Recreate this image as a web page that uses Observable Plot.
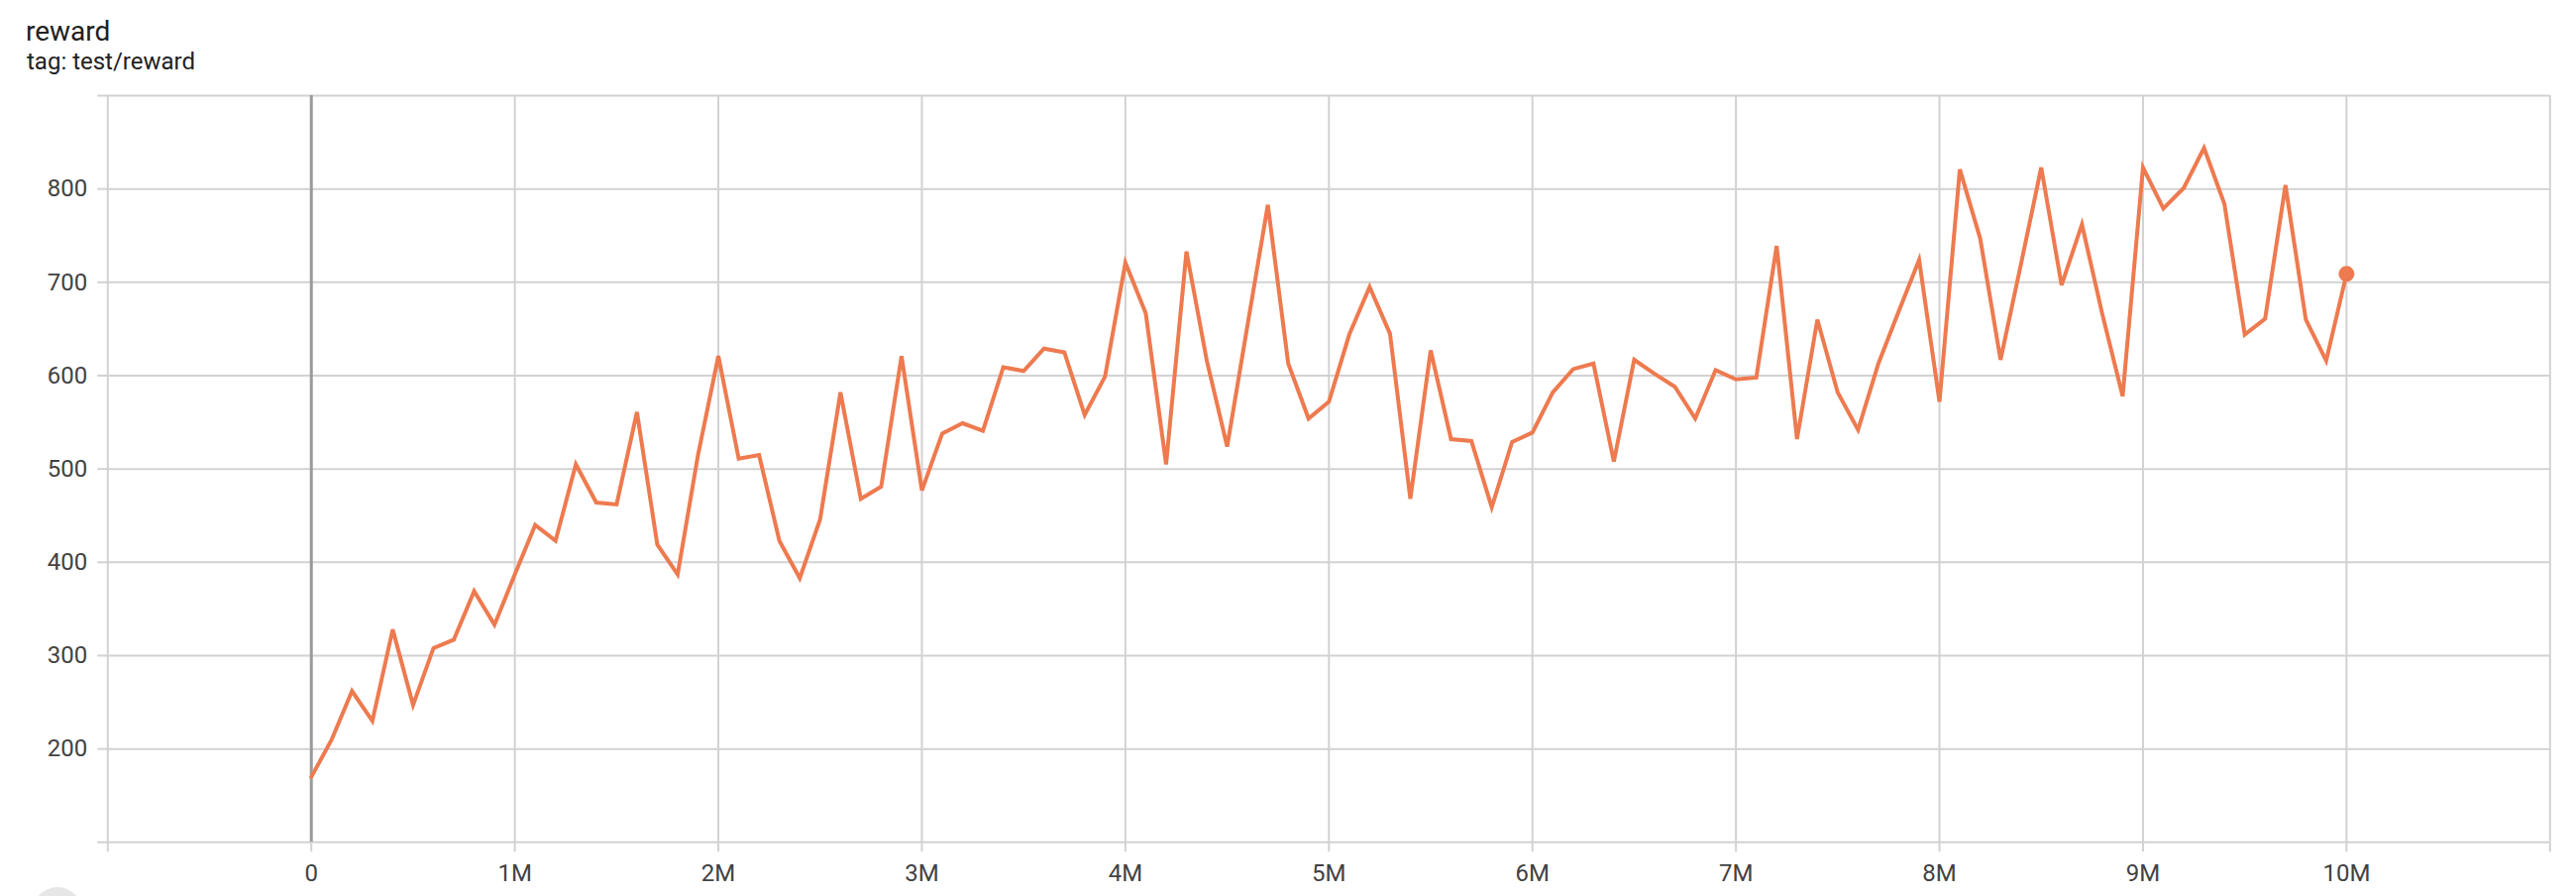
<!DOCTYPE html>
<html>
<head>
<meta charset="utf-8">
<script src="https://cdn.jsdelivr.net/npm/d3@7"></script>
<script src="https://cdn.jsdelivr.net/npm/@observablehq/plot@0.6"></script>
<style>
  html, body { margin: 0; padding: 0; background: #fff; overflow: hidden; }
  body { width: 2600px; height: 904px; position: relative; font-family: Roboto, "Noto Sans", sans-serif; }
  #header { position: relative; height: 80px; }
  #title { position: absolute; left: 26px; top: 18px; font-size: 28px; line-height: 28px; color: #212121; }
  #subtitle { position: absolute; left: 27px; top: 50px; font-size: 24px; line-height: 24px; color: #212121; }
  #chart svg { display: block; }
  #fab { position: absolute; left: 33px; top: 895px; width: 50px; height: 50px; border-radius: 50%; background: #e6e6e6; }
</style>
</head>
<body>
<div id="header">
  <div id="title">reward</div>
  <div id="subtitle">tag: test/reward</div>
</div>
<div id="chart"></div>
<div id="fab"></div>
<script>
// training step (millions)
const stepsM = [
  0.0, 0.1, 0.2, 0.3, 0.4, 0.5, 0.6, 0.7, 0.8, 0.9,
  1.0, 1.1, 1.2, 1.3, 1.4, 1.5, 1.6, 1.7, 1.8, 1.9,
  2.0, 2.1, 2.2, 2.3, 2.4, 2.5, 2.6, 2.7, 2.8, 2.9,
  3.0, 3.1, 3.2, 3.3, 3.4, 3.5, 3.6, 3.7, 3.8, 3.9,
  4.0, 4.1, 4.2, 4.3, 4.4, 4.5, 4.6, 4.7, 4.8, 4.9,
  5.0, 5.1, 5.2, 5.3, 5.4, 5.5, 5.6, 5.7, 5.8, 5.9,
  6.0, 6.1, 6.2, 6.3, 6.4, 6.5, 6.6, 6.7, 6.8, 6.9,
  7.0, 7.1, 7.2, 7.3, 7.4, 7.5, 7.6, 7.7, 7.8, 7.9,
  8.0, 8.1, 8.2, 8.3, 8.4, 8.5, 8.6, 8.7, 8.8, 8.9,
  9.0, 9.1, 9.2, 9.3, 9.4, 9.5, 9.6, 9.7, 9.8, 9.9,
  10.0
];
// test/reward values
const reward = [
  170, 210, 262, 230, 328, 247, 308, 317, 369, 333,
  387, 440, 423, 505, 464, 462, 561, 419, 387, 515,
  621, 511, 515, 423, 383, 446, 582, 468, 481, 621,
  477, 538, 549, 541, 609, 605, 629, 625, 558, 599,
  721, 667, 505, 733, 616, 524, 654, 783, 613, 554,
  572, 644, 695, 645, 468, 627, 532, 530, 459, 529,
  539, 582, 607, 613, 508, 617, 602, 588, 554, 606,
  596, 598, 739, 532, 660, 582, 542, 613, 669, 724,
  572, 821, 747, 617, 719, 823, 697, 762, 666, 578,
  823, 779, 801, 844, 784, 644, 661, 804, 660, 616,
  709
];
// axis ticks
const xTickM = [-1, 0, 1, 2, 3, 4, 5, 6, 7, 8, 9, 10, 11];
const xLabelM = [0, 1, 2, 3, 4, 5, 6, 7, 8, 9, 10];
const yTicks = [100, 200, 300, 400, 500, 600, 700, 800, 900];
const yLabels = [200, 300, 400, 500, 600, 700, 800];

const data = stepsM.map((s, i) => ({step: s * 1e6, reward: reward[i]}));
const last = data[data.length - 1];

const lineColor = "#ee7a4f";
const gridColor = "#d2d2d2";

const chart = Plot.plot({
  width: 2600,
  height: 824,
  marginTop: 16,
  marginBottom: 54.7,
  marginLeft: 108.3,
  marginRight: 26.7,
  style: {fontFamily: "Roboto, 'Noto Sans', sans-serif", fontSize: "24px", color: "#424242", background: "#fff"},
  x: {domain: [-1e6, 11e6]},
  y: {domain: [100, 900]},
  marks: [
    Plot.ruleY(yTicks, {stroke: gridColor, strokeWidth: 2}),
    Plot.ruleX(xTickM.map(d => d * 1e6), {stroke: gridColor, strokeWidth: 2}),
    Plot.ruleX([0], {stroke: "#9a9a9a", strokeWidth: 3}),
    Plot.axisX(xTickM.map(d => d * 1e6), {
      tickSize: 10, tickPadding: 12.5, fontSize: 24,
      stroke: gridColor, strokeWidth: 2, fill: "#424242",
      tickFormat: d => xLabelM.includes(d / 1e6) ? (d === 0 ? "0" : (d / 1e6) + "M") : "",
      label: null
    }),
    Plot.axisY(yTicks, {
      tickSize: 10, tickPadding: 10.5, fontSize: 24,
      stroke: gridColor, strokeWidth: 2, fill: "#424242",
      tickFormat: d => yLabels.includes(d) ? String(d) : "",
      label: null
    }),
    Plot.line(data, {x: "step", y: "reward", stroke: lineColor, strokeWidth: 4, strokeLinejoin: "miter", strokeMiterlimit: 4}),
    Plot.dot([last], {x: "step", y: "reward", r: 8, fill: lineColor, stroke: null})
  ]
});
document.getElementById("chart").appendChild(chart);
</script>
</body>
</html>
